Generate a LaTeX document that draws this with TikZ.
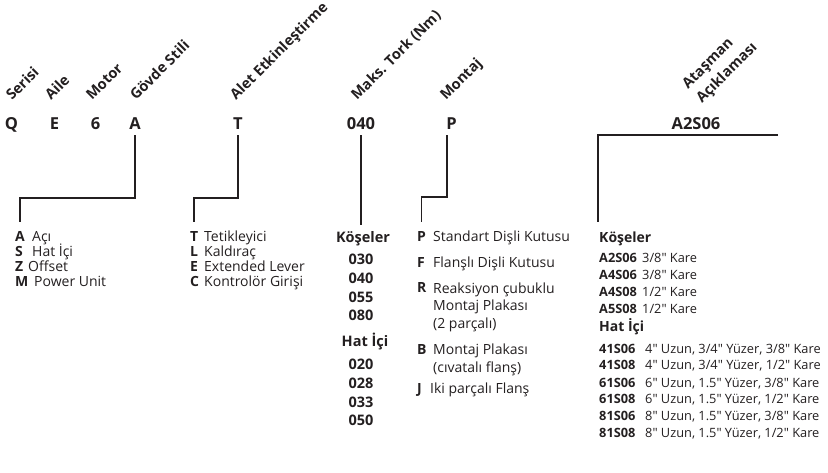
\documentclass[tikz,border=0pt]{standalone}
\usepackage{fontspec}
\setmainfont{Open Sans}[Ligatures=TeXOff]
\usetikzlibrary{positioning}
\definecolor{ink}{HTML}{231F20}

\begin{document}
\begin{tikzpicture}[
  x=1pt,y=-1pt,
  code/.style={font=\bfseries\fontsize{16.5}{18}\selectfont,anchor=base,inner sep=0pt,text=ink},
  head/.style={font=\bfseries\fontsize{14.5}{20}\selectfont,rotate=45,anchor=base west,inner sep=0pt,text=ink,align=left},
  key/.style={font=\bfseries\fontsize{14}{16}\selectfont,anchor=base west,inner sep=0pt,text=ink},
  desc/.style={font=\fontsize{14}{17.5}\selectfont,anchor=base west,inner sep=0pt,text=ink,align=left},
  num/.style={font=\bfseries\fontsize{14.5}{16}\selectfont,anchor=base,inner sep=0pt,text=ink},
  akey/.style={key,font=\bfseries\fontsize{12.8}{15}\selectfont},
  adesc/.style={desc,font=\fontsize{12.8}{15}\selectfont},
  link/.style={draw=ink,line width=1.8pt}
]
\useasboundingbox (0,0) rectangle (828,473);
% rotated field names
\node[head] (hSer) at (12,101) {Serisi};
\node[head] (hAil) at (51,101) {Aile};
\node[head] (hMot) at (92,101) {Motor};
\node[head] (hGov) at (136,101) {Gövde Stili};
\node[head] (hAlt) at (236,101) {Alet Etkinleştirme};
\node[head] (hTrk) at (357,101) {Maks. Tork (Nm)};
\node[head] (hMnt) at (446,101) {Montaj};
\node[head] (hAtt) at (702,104) {Ataşman\\Açıklaması};
% sample code
\node[code] (cQ) at (11.5,130) {Q};
\node[code] (cE) at (54.5,130) {E};
\node[code] (c6) at (95.5,130) {6};
\node[code] (cA) at (135,130) {A};
\node[code] (cT) at (238,130) {T};
\node[code] (cTrq) at (361,130) {040};
\node[code] (cP) at (451.5,130) {P};
\node[code] (cAtt) at (696,130) {A2S06};
% body style
\node[key] (kA) at (15,242) {A};   \node[desc] at (32,242) {Açı};
\node[key] (kS) at (15,257) {S};   \node[desc] at (32,257) {Hat İçi};
\node[key] (kZ) at (15,272) {Z};   \node[desc] at (28,272) {Offset};
\node[key] (kM) at (15,287) {M};   \node[desc] at (34,287) {Power Unit};
% tool actuation
\node[key] (kT) at (190,242) {T};  \node[desc] at (204,242) {Tetikleyici};
\node[key] (kL) at (190,257) {L};  \node[desc] at (204,257) {Kaldıraç};
\node[key] (kE) at (190,272) {E};  \node[desc] at (204,272) {Extended Lever};
\node[key] (kC) at (190,287) {C};  \node[desc] at (204,287) {Kontrolör Girişi};
% torque
\node[num] (kosL) at (363,243) {Köşeler};
\foreach \v/\y in {030/265,040/283.5,055/302,080/321}
  \node[num] at (361,\y) {\v};
\node[num] (hatL) at (365,347) {Hat İçi};
\foreach \v/\y in {020/370,028/388.5,033/407,050/425.5}
  \node[num] at (361,\y) {\v};
% mounting (multi-line texts sit on their last baseline)
\node[key] (kP) at (417,242) {P};  \node[desc] at (433,242) {Standart Dişli Kutusu};
\node[key] (kF) at (417,268) {F};  \node[desc] at (433,268) {Flanşlı Dişli Kutusu};
\node[key] (kR) at (417,293) {R};  \node[desc] at (433,328) {Reaksiyon çubuklu\\Montaj Plakası\\(2 parçalı)};
\node[key] (kB) at (417,355) {B};  \node[desc] at (433,372) {Montaj Plakası\\(cıvatalı flanş)};
\node[key] (kJ) at (417,393) {J};  \node[desc] at (430,393) {Iki parçalı Flanş};
% attachment
\node[key] (kosR) at (599,243) {Köşeler};
\node[akey] at (599,263) {A2S06}; \node[adesc] at (642,263) {3/8" Kare};
\node[akey] at (599,280) {A4S06}; \node[adesc] at (642,280) {3/8" Kare};
\node[akey] at (599,297) {A4S08}; \node[adesc] at (642,297) {1/2" Kare};
\node[akey] at (599,313) {A5S08}; \node[adesc] at (642,313) {1/2" Kare};
\node[key] (hatR) at (599,331) {Hat İçi};
\node[akey] at (599,353) {41S06}; \node[adesc] at (645,353) {4" Uzun, 3/4" Yüzer, 3/8" Kare};
\node[akey] at (599,370) {41S08}; \node[adesc] at (645,370) {4" Uzun, 3/4" Yüzer, 1/2" Kare};
\node[akey] at (599,387) {61S06}; \node[adesc] at (645,387) {6" Uzun, 1.5" Yüzer, 3/8" Kare};
\node[akey] at (599,403) {61S08}; \node[adesc] at (645,403) {6" Uzun, 1.5" Yüzer, 1/2" Kare};
\node[akey] at (599,420) {81S06}; \node[adesc] at (645,420) {8" Uzun, 1.5" Yüzer, 3/8" Kare};
\node[akey] at (599,437) {81S08}; \node[adesc] at (645,437) {8" Uzun, 1.5" Yüzer, 1/2" Kare};
% brackets
\coordinate (attEnd) at (778,135);
\draw[link] ([yshift=-5pt]cA.south) -- ++(0,63) -| ([yshift=10pt]kA.north);
\draw[link] ([yshift=-5pt]cT.south) -- ++(0,63) -| ([yshift=10pt]kT.north);
\draw[link] ([yshift=-5pt]cTrq.south) -- ([yshift=7pt]cTrq.south |- kosL.north);
\draw[link] ([xshift=1pt,yshift=-5pt]cP.south west) -- ++(0,62) -| ([yshift=10pt]kP.north);
\draw[link] (attEnd) -| ([xshift=-1pt,yshift=10pt]kosR.north west);
\end{tikzpicture}
\end{document}
